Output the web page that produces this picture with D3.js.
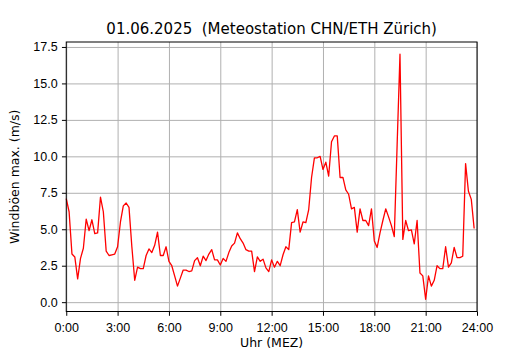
<!DOCTYPE html>
<html>
<head>
<meta charset="utf-8">
<script src="https://cdn.jsdelivr.net/npm/d3@7"></script>
<style>
  body { margin: 0; background: #fff; }
  svg { display: block; font-family: "DejaVu Sans", sans-serif; }
  .grid line { stroke: #b0b0b0; stroke-width: 1; }
  .grid path { display: none; }
  .axis path, .axis line { stroke: #000; stroke-width: 1; }
  .axis text { font-size: 12.5px; fill: #000; }
</style>
</head>
<body>
<div id="chart"></div>
<script>
// Windböen max. (m/s), 10-Minuten-Werte ab 0:00
const gusts = [
  7.1, 6.2, 3.3, 3.1, 1.6, 3.0, 3.7, 5.7, 4.9, 5.65, 4.7, 4.75,
  7.2, 6.2, 3.5, 3.2, 3.25, 3.3, 3.8, 5.5, 6.6, 6.8, 6.5, 3.8,
  1.5, 2.4, 2.3, 2.3, 3.2, 3.65, 3.4, 3.9, 4.8, 3.2, 3.2, 3.8,
  2.8, 2.5, 1.8, 1.1, 1.65, 2.2, 2.2, 2.1, 2.15, 2.85, 3.05, 2.5,
  3.15, 2.85, 3.3, 3.6, 2.9, 2.9, 2.55, 3.0, 2.8, 3.4, 3.85, 4.05,
  4.75, 4.35, 4.05, 3.6, 3.5, 3.5, 2.1, 3.1, 2.8, 2.95, 2.35, 2.1,
  2.9, 2.4, 2.8, 2.5, 3.25, 3.8, 3.6, 5.45, 5.5, 6.35, 4.8, 5.5,
  5.45, 6.35, 8.55, 9.9, 9.9, 10.0, 9.1, 9.6, 8.65, 11.0, 11.4, 11.4,
  8.55, 8.55, 7.7, 7.4, 6.4, 6.5, 4.8, 6.4, 5.6, 5.6, 5.25, 6.4,
  4.2, 3.75, 4.75, 5.6, 6.4, 5.85, 5.25, 4.5, 10.8, 17.0, 4.3, 5.6,
  4.9, 4.95, 4.0, 5.6, 2.0, 1.8, 0.2, 1.8, 1.1, 1.5, 2.5, 2.3,
  2.3, 3.8, 2.4, 2.7, 3.75, 3.05, 3.05, 3.15, 9.5, 7.6, 7.05, 5.05
];
const stepMinutes = 10;
const xTicks = [0, 3, 6, 9, 12, 15, 18, 21, 24];
const yTicks = [0, 2.5, 5, 7.5, 10, 12.5, 15, 17.5];

const width = 530,
      height = 350,
      margin = { top: 42, right: 53, bottom: 38.5, left: 66.25 };

const svg = d3.select("#chart")
  .append("svg")
  .attr("width", width)
  .attr("height", height);

let data = gusts.map((v, i) => ({ hour: i * stepMinutes / 60, value: v }));

let x = d3.scaleLinear()
  .domain([0, 24])
  .range([margin.left, width - margin.right]);

// matplotlib style: 5% Rand um die Daten
let [lo, hi] = d3.extent(gusts);
let pad = (hi - lo) * 0.05;
let y = d3.scaleLinear()
  .domain([lo - pad, hi + pad])
  .range([height - margin.bottom, margin.top]);

let plotW = width - margin.left - margin.right,
    plotH = height - margin.top - margin.bottom;

// grid
svg.append("g")
  .attr("class", "grid")
  .attr("transform", `translate(0,${height - margin.bottom})`)
  .call(d3.axisBottom(x).tickValues(xTicks).tickSize(-plotH).tickFormat(""));

svg.append("g")
  .attr("class", "grid")
  .attr("transform", `translate(${margin.left},0)`)
  .call(d3.axisLeft(y).tickValues(yTicks).tickSize(-plotW).tickFormat(""));

let line = d3.line()
  .x(d => x(d.hour))
  .y(d => y(d.value));

svg.append("path")
  .datum(data)
  .attr("fill", "none")
  .attr("stroke", "#ff0000")
  .attr("stroke-width", 1.3)
  .attr("stroke-linejoin", "round")
  .attr("d", line);

// frame
svg.append("rect")
  .attr("x", margin.left)
  .attr("y", margin.top)
  .attr("width", plotW)
  .attr("height", plotH)
  .attr("fill", "none")
  .attr("stroke", "#000")
  .attr("stroke-width", 1);

svg.append("g")
  .attr("class", "axis")
  .attr("transform", `translate(0,${height - margin.bottom})`)
  .call(d3.axisBottom(x).tickValues(xTicks).tickSize(4.3).tickPadding(7)
    .tickFormat(d => `${d}:00`))
  .call(g => g.select(".domain").remove());

svg.append("g")
  .attr("class", "axis")
  .attr("transform", `translate(${margin.left},0)`)
  .call(d3.axisLeft(y).tickValues(yTicks).tickSize(4.3).tickPadding(4.3)
    .tickFormat(d3.format(".1f")))
  .call(g => g.select(".domain").remove());

svg.append("text")
  .text("01.06.2025  (Meteostation CHN/ETH Zürich)")
  .attr("x", margin.left + plotW / 2)
  .attr("y", 34)
  .attr("text-anchor", "middle")
  .attr("font-size", "15px")
  .style("white-space", "pre")
  .attr("fill", "#000");

svg.append("text")
  .text("Uhr (MEZ)")
  .attr("x", margin.left + plotW / 2)
  .attr("y", 347)
  .attr("text-anchor", "middle")
  .attr("font-size", "12.5px")
  .attr("fill", "#000");

svg.append("text")
  .text("Windböen max. (m/s)")
  .attr("transform", `translate(19,${margin.top + plotH / 2}) rotate(-90)`)
  .attr("text-anchor", "middle")
  .attr("font-size", "12.5px")
  .attr("fill", "#000");
</script>
</body>
</html>
